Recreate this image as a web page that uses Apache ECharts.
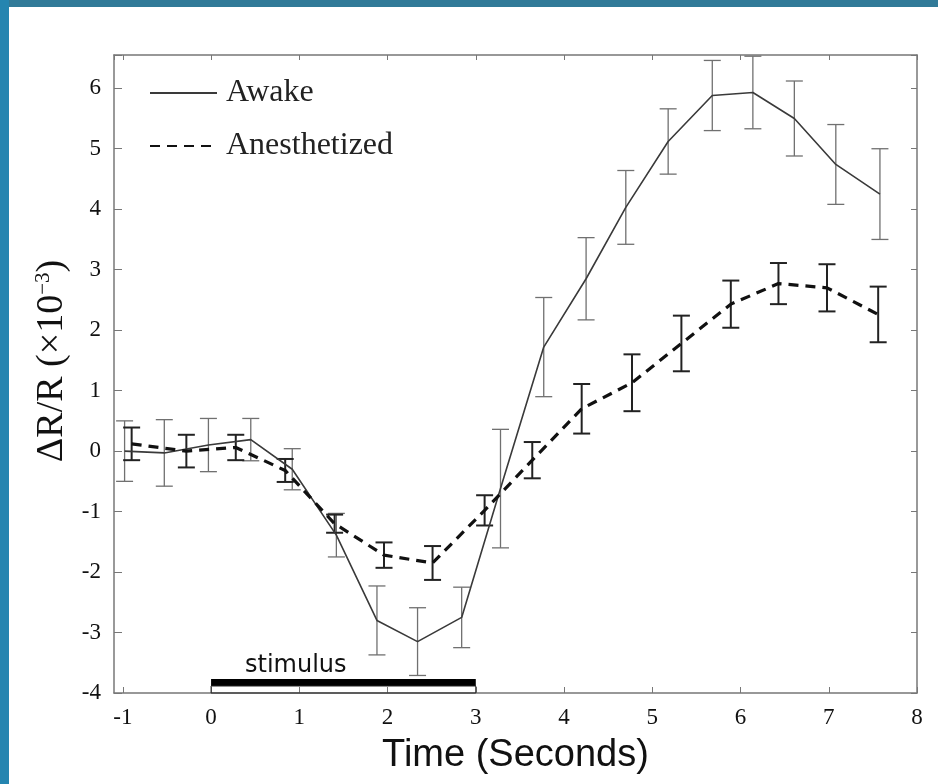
<!DOCTYPE html>
<html><head><meta charset="utf-8">
<script src="https://cdn.jsdelivr.net/npm/echarts@6/dist/echarts.min.js"></script>
<style>html,body{margin:0;padding:0;background:#fff}#c{width:938px;height:784px}</style>
</head><body><div id="c"></div>
<script>
// ---- data ----
const awakeTime  = [-0.98, -0.53, -0.03, 0.45, 0.92, 1.42, 1.88, 2.34, 2.84, 3.28, 3.77, 4.25, 4.70, 5.18, 5.68, 6.14, 6.61, 7.08, 7.58];
const awakeValue = [0.00, -0.03, 0.10, 0.19, -0.30, -1.39, -2.80, -3.15, -2.75, -0.62, 1.72, 2.85, 4.03, 5.12, 5.88, 5.93, 5.50, 4.74, 4.25];
const awakeErr   = [0.50, 0.55, 0.44, 0.35, 0.34, 0.36, 0.57, 0.56, 0.50, 0.98, 0.82, 0.68, 0.61, 0.54, 0.58, 0.60, 0.62, 0.66, 0.75];

const anesTime  = [-0.90, -0.28, 0.28, 0.84, 1.40, 1.96, 2.51, 3.10, 3.64, 4.20, 4.77, 5.33, 5.89, 6.43, 6.98, 7.56];
const anesValue = [0.12, 0.00, 0.06, -0.32, -1.20, -1.72, -1.85, -0.98, -0.15, 0.70, 1.13, 1.78, 2.43, 2.77, 2.70, 2.26];
const anesErr   = [0.27, 0.27, 0.21, 0.19, 0.15, 0.21, 0.28, 0.25, 0.30, 0.41, 0.47, 0.46, 0.39, 0.34, 0.39, 0.46];

const stimulusStart = 0;
const stimulusEnd = 3;
const stimulusLabel = 'stimulus';

const seriesNames = ['Awake', 'Anesthetized'];
const xTitle = 'Time (Seconds)';

// ---- build ----
const zip = (t, v) => t.map((x, i) => [x, v[i]]);
const errData = (t, v, e) => t.map((x, i) => [x, v[i] - e[i], v[i] + e[i]]);

function errRender(color, width) {
  return function (params, api) {
    const x = api.value(0), lo = api.value(1), hi = api.value(2);
    const pT = api.coord([x, hi]), pB = api.coord([x, lo]);
    const hw = 8.5;
    const style = { stroke: color, lineWidth: width, fill: null };
    return { type: 'group', children: [
      { type: 'line', shape: { x1: pT[0], y1: pT[1], x2: pB[0], y2: pB[1] }, style },
      { type: 'line', shape: { x1: pT[0] - hw, y1: pT[1], x2: pT[0] + hw, y2: pT[1] }, style },
      { type: 'line', shape: { x1: pB[0] - hw, y1: pB[1], x2: pB[0] + hw, y2: pB[1] }, style }
    ]};
  };
}

const serif = 'Liberation Serif, Times New Roman, serif';
const intFmt = v => (Math.abs(v - Math.round(v)) < 1e-6 ? String(Math.round(v)) : '');

const axisLineStyle = { color: '#777', width: 1.5 };

const chart = echarts.init(document.getElementById('c'), null, { renderer: 'canvas' });
chart.setOption({
  backgroundColor: '#fff',
  animation: false,
  graphic: [
    { type: 'rect', left: 0, top: 0, shape: { width: 938, height: 7 }, style: { fill: '#317a98' } },
    { type: 'rect', left: 0, top: 0, shape: { width: 9, height: 784 }, style: { fill: '#2585b0' } }
  ],
  grid: { left: 114, top: 55, width: 803, height: 638, containLabel: false },
  legend: {
    data: seriesNames,
    orient: 'vertical',
    left: 144, top: 72,
    itemWidth: 67, itemHeight: 14, itemGap: 21,
    itemStyle: { opacity: 0 },
    textStyle: { fontFamily: serif, fontSize: 32, color: '#222', padding: [0, 0, 0, 4] }
  },
  xAxis: [
    {
      type: 'value', position: 'bottom', min: -1.1, max: 8, minInterval: 1, maxInterval: 1,
      axisLine: { onZero: false, lineStyle: axisLineStyle },
      axisTick: { inside: true, length: 6, lineStyle: { color: '#777' } },
      axisLabel: { fontFamily: serif, fontSize: 23, color: '#111', margin: 13, formatter: intFmt, showMinLabel: false },
      splitLine: { show: false },
      name: xTitle, nameLocation: 'middle', nameGap: 44,
      nameTextStyle: { fontFamily: 'Liberation Sans, Arial, sans-serif', fontSize: 38, color: '#111' }
    },
    {
      type: 'value', position: 'top', min: -1.1, max: 8, minInterval: 1, maxInterval: 1,
      axisLine: { onZero: false, lineStyle: axisLineStyle },
      axisTick: { inside: true, length: 5, lineStyle: { color: '#777' } },
      axisLabel: { show: false }, splitLine: { show: false }
    }
  ],
  yAxis: [
    {
      type: 'value', position: 'left', min: -4, max: 6.55, interval: 1,
      axisLine: { onZero: false, lineStyle: axisLineStyle },
      axisTick: { inside: true, length: 8, lineStyle: { color: '#777' } },
      axisLabel: { fontFamily: serif, fontSize: 23, color: '#111', margin: 13, formatter: intFmt },
      splitLine: { show: false },
      name: '{a|ΔR/R (×10}{s|−3}{a|)}', nameLocation: 'middle', nameRotate: 90, nameGap: 38,
      nameTextStyle: {
        padding: [0, 0, 0, 26],
        rich: {
          a: { fontFamily: serif, fontSize: 38, color: '#111', lineHeight: 46 },
          s: { fontFamily: serif, fontSize: 21, color: '#111', lineHeight: 46, padding: [0, 0, 17, 0] }
        }
      }
    },
    {
      type: 'value', position: 'right', min: -4, max: 6.55, interval: 1,
      axisLine: { onZero: false, lineStyle: axisLineStyle },
      axisTick: { inside: true, length: 6, lineStyle: { color: '#777' } },
      axisLabel: { show: false }, splitLine: { show: false }
    }
  ],
  series: [
    {
      name: 'stimulus-bar', type: 'custom', z: 1, silent: true,
      data: [[stimulusStart, stimulusEnd]],
      encode: { x: [0, 1] },
      renderItem: function (params, api) {
        const a = api.coord([api.value(0), -4]);
        const b = api.coord([api.value(1), -4]);
        const yb = a[1];
        return { type: 'group', children: [
          { type: 'rect', shape: { x: a[0], y: yb - 14, width: b[0] - a[0], height: 7 }, style: { fill: '#000' } },
          { type: 'rect', shape: { x: a[0], y: yb - 7, width: b[0] - a[0], height: 7 }, style: { fill: 'none', stroke: '#222', lineWidth: 1 } },
          { type: 'text', x: a[0] + 0.32 * (b[0] - a[0]), y: yb - 27,
            style: { text: stimulusLabel, fontFamily: 'DejaVu Sans, sans-serif', fontSize: 24, fill: '#111', align: 'center', verticalAlign: 'middle' } }
        ]};
      }
    },
    {
      name: 'Awake err', type: 'custom', z: 2, silent: true,
      data: errData(awakeTime, awakeValue, awakeErr),
      encode: { x: 0, y: [1, 2] },
      renderItem: errRender('#707070', 1.3)
    },
    {
      name: 'Anesthetized err', type: 'custom', z: 2, silent: true,
      data: errData(anesTime, anesValue, anesErr),
      encode: { x: 0, y: [1, 2] },
      renderItem: errRender('#222', 2)
    },
    {
      name: seriesNames[0], type: 'line', z: 3,
      data: zip(awakeTime, awakeValue),
      symbol: 'none', showSymbol: false,
      lineStyle: { color: '#3a3a3a', width: 1.6 },
      itemStyle: { color: '#3a3a3a' }
    },
    {
      name: seriesNames[1], type: 'line', z: 4,
      data: zip(anesTime, anesValue),
      symbol: 'none', showSymbol: false,
      lineStyle: { color: '#111', width: 3.2, type: [10, 7] },
      itemStyle: { color: '#111' }
    }
  ]
});
</script>
</body></html>
